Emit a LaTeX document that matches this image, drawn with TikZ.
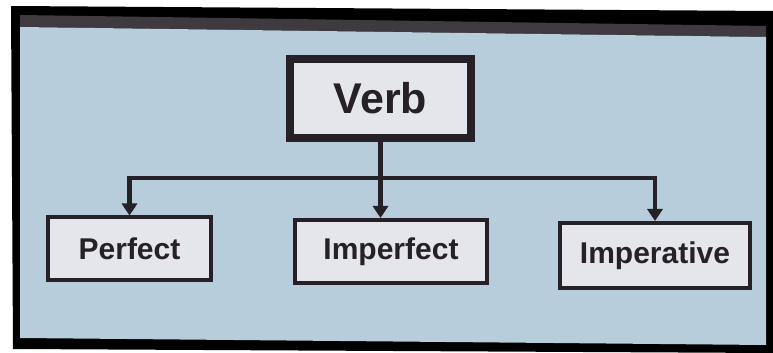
\documentclass[tikz,border=0pt]{standalone}
\usepackage{fontspec}
\setmainfont{Liberation Sans}
\usepackage{xcolor}
\usepackage{tikz}
\usetikzlibrary{shapes,arrows.meta}
\definecolor{slideblue}{RGB}{184,205,220}
\definecolor{boxfill}{RGB}{229,229,236}
\definecolor{ink}{RGB}{38,33,38}
\definecolor{rim}{RGB}{62,58,64}
\tikzset{%
  block/.style    = {draw=ink, fill=boxfill, rectangle, line width=2pt,
    minimum height = 31.5pt, inner sep=0pt, text=ink,
    font=\fontsize{15pt}{18pt}\selectfont\bfseries},
  topblock/.style = {block, line width=4pt, minimum width=90.5pt,
    minimum height=39.5pt, font=\fontsize{21.5pt}{25pt}\selectfont\bfseries},
  link/.style     = {draw=ink, line width=2.2pt}
}

\begin{document}
\begin{tikzpicture}[auto, x=0.5pt, y=-0.5pt, >={Triangle[length=6pt,width=7.5pt]}]

  % screen and its frame
  \fill[white] (0,0) rectangle (773,353);
  \useasboundingbox (0,0) rectangle (773,353);
  \fill[black] (11,6) -- (773,11) -- (773,353) -- (13,349) -- cycle;
  \fill[rim] (20,15) -- (766,26) -- (766,37) -- (20,27) -- cycle;
  \fill[slideblue] (20,27) -- (766,37) -- (766,345) -- (20,338) -- cycle;

  \draw node at (380.5,98.5) [topblock] (verb) {Verb};
  \draw node at (129.5,249) [block, minimum width=81.5pt] (perfect) {Perfect};
  \draw node at (391,251.5) [block, minimum width=96pt] (imperfect) {Imperfect};
  \draw node at (655,255.5) [block, minimum width=95pt, minimum height=32.5pt] (imperative) {Imperative};

  \coordinate (split) at (380.5,178);

  \draw[link] (verb) -- (split);
  \draw[link,->] (split) -- (split |- imperfect.north);
  \draw[link,->] (split) -| (perfect);
  \draw[link,->] (split) -| (imperative);

\end{tikzpicture}
\end{document}
